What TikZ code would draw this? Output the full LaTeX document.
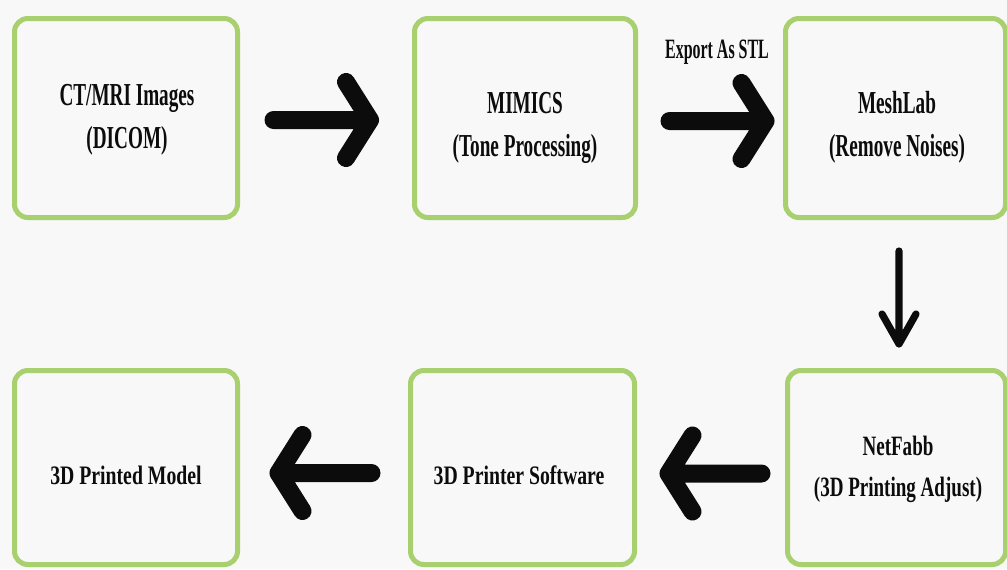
\documentclass[tikz,border=0pt]{standalone}
\usepackage{fontspec}
\setmainfont{Liberation Serif}
\newfontfamily\fontA[FakeStretch=0.6]{Liberation Serif}
\newfontfamily\fontS[FakeStretch=0.57]{Liberation Serif}
\newfontfamily\fontB[FakeStretch=0.74]{Liberation Serif}
\newfontfamily\fontC[FakeStretch=0.68]{Liberation Serif}
\usetikzlibrary{calc}
\definecolor{bg}{RGB}{248,248,248}
\definecolor{boxgreen}{RGB}{168,208,110}
\definecolor{ink}{RGB}{12,12,12}
\begin{document}
\begin{tikzpicture}[x=0.75pt,y=-0.75pt,
  stepbox/.style={draw=boxgreen, line width=3.75pt, rounded corners=10pt, fill=bg,
    inner sep=0pt},
  boxtext/.style={inner sep=0pt, align=center, text=ink},
  fat/.style={draw=ink, line width=13.5pt, line cap=round, line join=round},
  slim/.style={draw=ink, line width=5.4pt, line cap=round, line join=round},
  topfont/.style={font=\fontA\bfseries\fontsize{24}{32.5}\selectfont},
  lowfont/.style={font=\fontB\bfseries\fontsize{20}{26}\selectfont},
  netfont/.style={font=\fontC\bfseries\fontsize{21}{31}\selectfont},
  stlfont/.style={font=\fontS\bfseries\fontsize{21}{24}\selectfont, text=ink}
]
\fill[bg] (0,0) rectangle (1007,569);
\useasboundingbox (0,0) rectangle (1007,569);

% boxes
\node[stepbox, minimum width=167.25pt, minimum height=149.25pt] (b1) at (126,118) {};
\node[stepbox, minimum width=165.75pt, minimum height=149.25pt] (b2) at (525,118) {};
\node[stepbox, minimum width=165pt, minimum height=149.25pt] (b3) at (895.5,118) {};
\node[stepbox, minimum width=163.5pt, minimum height=145.5pt] (b4) at (896.5,467.5) {};
\node[stepbox, minimum width=168pt, minimum height=145.5pt] (b5) at (522.5,467.5) {};
\node[stepbox, minimum width=167.25pt, minimum height=145.5pt] (b6) at (126,467.5) {};

% texts
\node[boxtext, topfont] (t1) at ($(b1.center)+(1,2)$) {CT/MRI Images\\(DICOM)};
\node[boxtext, topfont] (t2) at ($(b2.center)+(0,10)$) {MIMICS\\(Tone Processing)};
\node[boxtext, topfont] (t3) at ($(b3.center)+(1.5,9.5)$) {MeshLab\\(Remove Noises)};
\node[boxtext, netfont] (t4) at ($(b4.center)+(1.5,2)$) {NetFabb\\(3D Printing Adjust)};
\node[boxtext, lowfont] (t5) at ($(b5.center)+(-3.5,7.5)$) {3D Printer Software};
\node[boxtext, lowfont] (t6) at ($(b6.center)+(0,8)$) {3D Printed Model};

\node[stlfont, inner sep=0pt] (stl) at (717,52) {Export As STL};

% arrow 1
\coordinate (a1s) at ($(b1.east)+(33.5,2)$);
\coordinate (a1t) at ($(b2.west)+(-42,2)$);
\draw[fat] (a1s) -- (a1t) ($(a1t)+(-24,-38)$) -- (a1t) -- ($(a1t)+(-24,38)$);
% arrow 2
\coordinate (a2s) at ($(b2.east)+(31.5,3)$);
\coordinate (a2t) at ($(b3.west)+(-17.5,3)$);
\draw[fat] (a2s) -- (a2t) ($(a2t)+(-24,-38)$) -- (a2t) -- ($(a2t)+(-24,38)$);
% arrow down
\coordinate (a3s) at ($(b3.south)+(3.5,31)$);
\coordinate (a3t) at ($(b4.north)+(2.5,-24)$);
\draw[slim] (a3s) -- (a3t) ($(a3t)+(-17,-30)$) -- (a3t) -- ($(a3t)+(17,-30)$);
% arrow 4
\coordinate (a4s) at ($(b4.west)+(-23.5,6)$);
\coordinate (a4t) at ($(b5.east)+(31.5,6)$);
\draw[fat] (a4s) -- (a4t) ($(a4t)+(24,-38)$) -- (a4t) -- ($(a4t)+(24,38)$);
% arrow 5
\coordinate (a5s) at ($(b5.west)+(-36.5,5.5)$);
\coordinate (a5t) at ($(b6.east)+(38.5,5.5)$);
\draw[fat] (a5s) -- (a5t) ($(a5t)+(24,-38)$) -- (a5t) -- ($(a5t)+(24,38)$);
\end{tikzpicture}
\end{document}
